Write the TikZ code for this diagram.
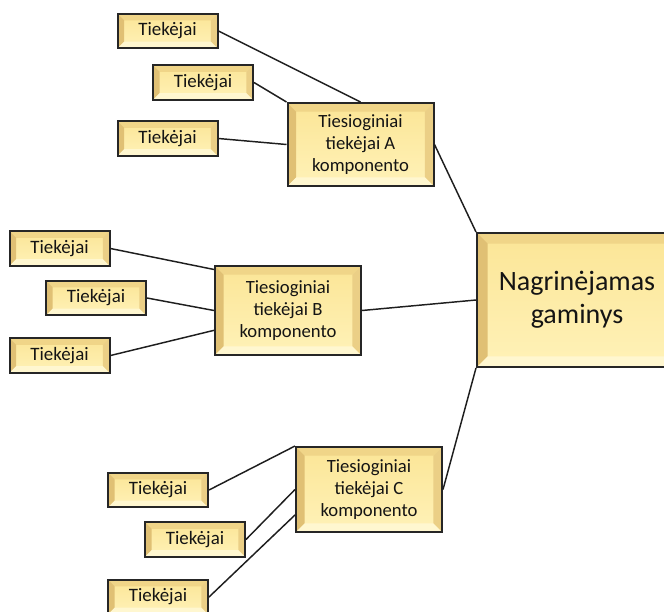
\documentclass[tikz,border=0pt]{standalone}
\usepackage{fontspec}
\setmainfont{Carlito}
\usetikzlibrary{calc}

\definecolor{boxline}{HTML}{262626}
\definecolor{linec}{HTML}{1E1E1E}
\definecolor{facetop}{HTML}{FBE596}
\definecolor{facebot}{HTML}{FFF2B8}
\definecolor{beveltop}{HTML}{F0D588}
\definecolor{bevelleft}{HTML}{E0C074}
\definecolor{bevelright}{HTML}{EBCF86}
\definecolor{bevelbot}{HTML}{FFF7D0}
\definecolor{txt}{HTML}{141414}

\tikzset{
  bevelled/.style={
    path picture={
      \path (path picture bounding box.north west) coordinate (bnw)
            (path picture bounding box.north east) coordinate (bne)
            (path picture bounding box.south west) coordinate (bsw)
            (path picture bounding box.south east) coordinate (bse);
      \shade[top color=facetop,bottom color=facebot] (bnw) rectangle (bse);
      \fill[beveltop] (bnw) -- (bne) -- ($(bne)+(-#1,-#1)$) -- ($(bnw)+(#1,-#1)$) -- cycle;
      \fill[bevelleft] (bnw) -- ($(bnw)+(#1,-#1)$) -- ($(bsw)+(#1,#1)$) -- (bsw) -- cycle;
      \fill[bevelright] (bne) -- ($(bne)+(-#1,-#1)$) -- ($(bse)+(-#1,#1)$) -- (bse) -- cycle;
      \fill[bevelbot] (bsw) -- ($(bsw)+(#1,#1)$) -- ($(bse)+(-#1,#1)$) -- (bse) -- cycle;
    }},
  box/.style={draw=boxline, line width=1.5pt, fill=facetop, inner sep=0pt,
    align=center, text=txt},
  supplier/.style={box, bevelled=5pt, minimum width=75pt, minimum height=26pt,
    font=\fontsize{14.2}{16.5}\selectfont},
  direct/.style={box, bevelled=6.5pt, minimum width=109.5pt,
    font=\fontsize{14}{16.5}\selectfont},
  product/.style={box, bevelled=8pt, minimum width=150pt, minimum height=100.5pt,
    font=\fontsize{21}{24.5}\selectfont},
  conn/.style={draw=linec, line width=1.1pt},
}

\begin{document}
\begin{tikzpicture}[x=0.75pt,y=-0.75pt]
\useasboundingbox (0,0) rectangle (664,611);
\clip (0,0) rectangle (664,611);

% product under study
\node[product] (main) at (577,300) {Nagrinėjamas\\gaminys};

% direct suppliers of the components
\node[direct, minimum height=62.25pt] (ka) at (360.5,144.5) {Tiesioginiai\\tiekėjai A\\komponento};
\node[direct, minimum height=66.75pt] (kb) at (288,310.5) {Tiesioginiai\\tiekėjai B\\komponento};
\node[direct, minimum height=63.75pt] (kc) at (369,489.5) {Tiesioginiai\\tiekėjai C\\komponento};

% suppliers of component A
\node[supplier] (a1) at (167.5,31) {Tiekėjai};
\node[supplier] (a2) at (203,82.5) {Tiekėjai};
\node[supplier] (a3) at (167.5,138.5) {Tiekėjai};

% suppliers of component B
\node[supplier] (b1) at (59.5,248.5) {Tiekėjai};
\node[supplier] (b2) at (96,298) {Tiekėjai};
\node[supplier] (b3) at (59.5,355.5) {Tiekėjai};

% suppliers of component C
\node[supplier] (c1) at (158,490) {Tiekėjai};
\node[supplier] (c2) at (195,539.5) {Tiekėjai};
\node[supplier] (c3) at (158,597) {Tiekėjai};

% connectors
\draw[conn] (a1.east) -- (ka.north);
\draw[conn] (a2.east) -- (ka.north west);
\draw[conn] (a3.east) -- (ka.west);
\draw[conn] (ka.east) -- (main.north west);

\draw[conn] (b1.east) -- (kb.151);
\draw[conn] (b2.east) -- (kb.west);
\draw[conn] (b3.east) -- (kb.195.7);
\draw[conn] (kb.east) -- (main.west);

\draw[conn] (c1.east) -- (kc.north west);
\draw[conn] (c2.east) -- (kc.west);
\draw[conn] (c3.east) -- (kc.199.3);
\draw[conn] (kc.east) -- (main.south west);
\end{tikzpicture}
\end{document}
